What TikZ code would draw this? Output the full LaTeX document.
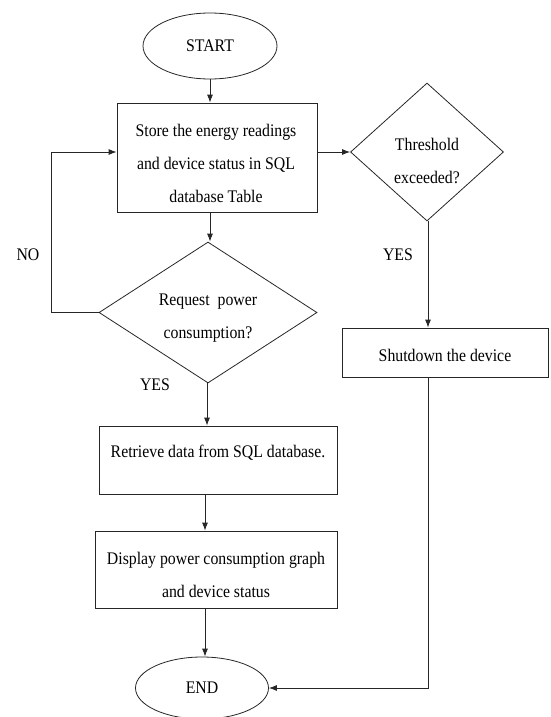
\documentclass[tikz,border=0pt]{standalone}
\usepackage{fontspec}
\usepackage{graphicx}
\setmainfont{Liberation Serif}
\usetikzlibrary{shapes.geometric,arrows.meta}
% slightly tall lettering
\newcommand{\tl}[1]{\scalebox{1}[1.12]{#1}}
\begin{document}
\begin{tikzpicture}[x=1pt,y=-1pt,
  line width=0.8pt,
  every node/.style={inner sep=0pt},
  flow/.style={draw=black!85, -{Latex[length=8pt,width=6pt]}},
  plain/.style={draw=black!85},
  box/.style={draw=black!85, rectangle},
  term/.style={draw=black!85, ellipse},
  decision/.style={draw=black!85, diamond},
  txt/.style={font=\fontsize{15.8}{33}\selectfont, align=center}
]
\useasboundingbox (0,0) rectangle (550,717);

% terminals
\node[term, minimum width=134pt, minimum height=66pt] (start) at (210,46) {};
\node[txt] (startT) at (210,46) {\tl{START}};
\node[term, minimum width=133pt, minimum height=62pt] (end) at (202,688) {};
\node[txt] (endT) at (202,688) {\tl{END}};

% process boxes
\node[box, minimum width=200pt, minimum height=109pt] (store) at (217,157.5) {};
\node[txt] (storeT) at (216,163) {\tl{Store the energy readings}\\\tl{and device status in SQL}\\\tl{database Table}};

\node[box, minimum width=238pt, minimum height=68pt] (retr) at (218,460) {};
\node[txt] (retrT) at (218,453) {\tl{Retrieve data from SQL database.}};

\node[box, minimum width=242pt, minimum height=77pt] (disp) at (216,569.5) {};
\node[txt] (dispT) at (216,575) {\tl{Display power consumption graph}\\\tl{and device status}};

\node[box, minimum width=206pt, minimum height=49pt] (shut) at (445,352.5) {};
\node[txt] (shutT) at (445,355) {\tl{Shutdown the device}};

% decisions
\node[decision, minimum width=218pt, minimum height=141pt] (req) at (208,312.5) {};
\node[txt] (reqT) at (208,318) {\tl{Request~~power}\\\tl{consumption?}};

\node[decision, minimum width=153pt, minimum height=138pt] (thr) at (427,152) {};
\node[txt] (thrT) at (427,161) {\tl{Threshold}\\\tl{exceeded?}};

% branch labels
\node[txt] (noL) at (28,255) {\tl{NO}};
\node[txt] (yesR) at (398,255) {\tl{YES}};
\node[txt] (yesL) at (155,385) {\tl{YES}};

% connectors
\coordinate (loopB) at (51,312.5);
\coordinate (loopT) at (51,152);
\coordinate (shutDown) at (428,688);

\draw[flow] (start.south) -- (start.south |- store.north);
\draw[flow] (thr.west -| store.east) -- (thr.west);
\draw[flow] (store.south -| 210,0) -- (req.north -| 210,0);
\draw[plain] (req.west) -- (loopB);
\draw[flow] (loopB) -- (loopT) -- (loopT -| store.west);
\draw[flow] (req.south -| 207,0) -- (retr.north -| 207,0);
\draw[flow] (retr.south -| 205,0) -- (disp.north -| 205,0);
\draw[flow] (disp.south -| 205,0) -- (end.north -| 205,0);
\draw[flow] (thr.south -| 428,0) -- (shut.north -| 428,0);
\draw[flow] (shut.south -| 428,0) -- (shutDown) -- (end.east);
\end{tikzpicture}
\end{document}
